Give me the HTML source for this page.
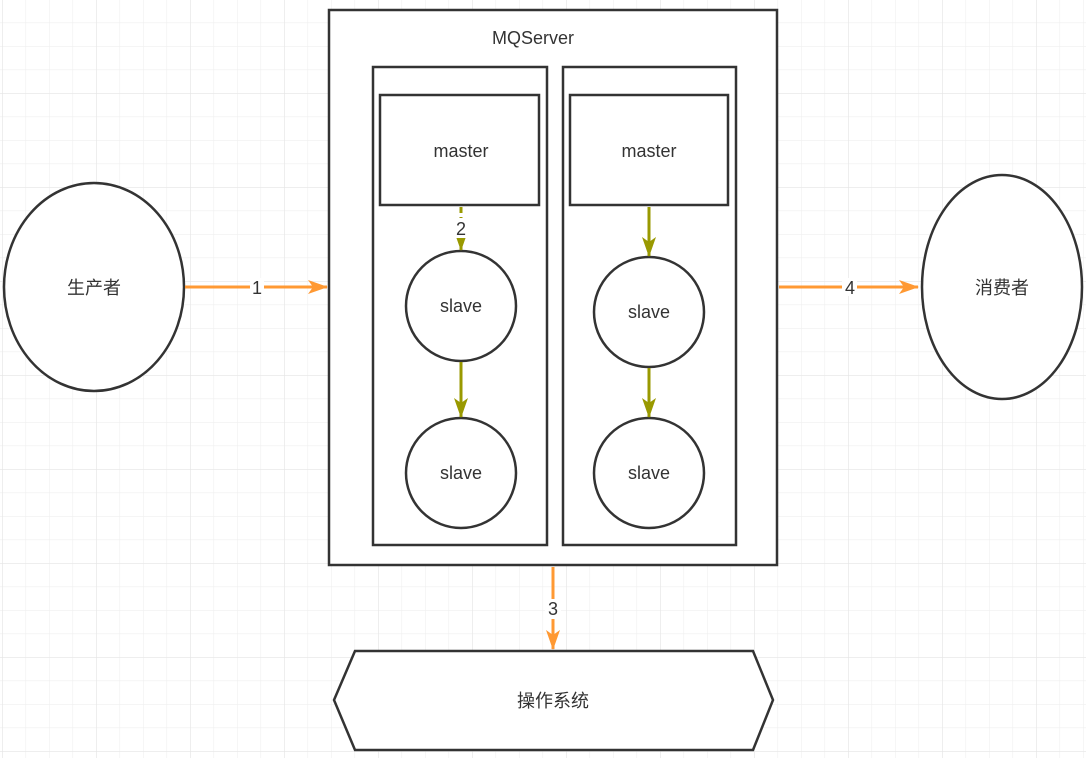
<!DOCTYPE html>
<html><head><meta charset="utf-8"><style>
html,body{margin:0;padding:0;background:#fff;}
svg{display:block;font-family:"Liberation Sans","Noto Sans CJK SC",sans-serif;}
</style></head><body>
<svg width="1086" height="758" viewBox="0 0 1086 758" xmlns="http://www.w3.org/2000/svg">
<defs>
<pattern id="g" x="2" y="-1" width="23.5" height="23.5" patternUnits="userSpaceOnUse">
<path d="M0 0V23.5M0 0H23.5" stroke="#efefef" stroke-width="1.2" fill="none"/>
</pattern>
<pattern id="G" x="2" y="-1" width="94" height="94" patternUnits="userSpaceOnUse">
<path d="M0 0V94M0 0H94" stroke="#e6e6e6" stroke-width="1.3" fill="none"/>
</pattern>
<marker id="ao" markerWidth="20" markerHeight="16" refX="19" refY="8" orient="auto" markerUnits="userSpaceOnUse"><path d="M0,1 L20,8 L0,15 L5,8z" fill="#ff9933"/></marker>
<marker id="ag" markerWidth="20" markerHeight="16" refX="19" refY="8" orient="auto" markerUnits="userSpaceOnUse"><path d="M0,1 L20,8 L0,15 L5,8z" fill="#999900"/></marker>
</defs>
<rect width="1086" height="758" fill="url(#g)"/>
<rect width="1086" height="758" fill="url(#G)"/>
<g stroke="#333" stroke-width="2.5" fill="#fff">
<rect x="329" y="10" width="448" height="555"/>
<rect x="373" y="67" width="174" height="478"/>
<rect x="563" y="67" width="173" height="478"/>
<rect x="380" y="95" width="159" height="110"/>
<rect x="570" y="95" width="158" height="110"/>
<ellipse cx="94" cy="287" rx="90" ry="104"/>
<ellipse cx="1002" cy="287" rx="80" ry="112"/>
<circle cx="461" cy="306" r="55"/>
<circle cx="461" cy="473" r="55"/>
<circle cx="649" cy="312" r="55"/>
<circle cx="649" cy="473" r="55"/>
<polygon points="355,651 753,651 773,700 753,750 355,750 334,700"/>
</g>
<g stroke="#ff9933" stroke-width="3" fill="none">
<line x1="185" y1="287" x2="327" y2="287" marker-end="url(#ao)"/>
<line x1="779" y1="287" x2="918" y2="287" marker-end="url(#ao)"/>
<line x1="553" y1="567" x2="553" y2="649" marker-end="url(#ao)"/>
</g>
<g stroke="#999900" stroke-width="3" fill="none">
<line x1="461" y1="207" x2="461" y2="250" stroke-dasharray="6,4" marker-end="url(#ag)"/>
<line x1="461" y1="362" x2="461" y2="417" marker-end="url(#ag)"/>
<line x1="649" y1="207" x2="649" y2="256" marker-end="url(#ag)"/>
<line x1="649" y1="368" x2="649" y2="417" marker-end="url(#ag)"/>
</g>
<g fill="#fff">
<rect x="250" y="278" width="14" height="18"/>
<rect x="842" y="278" width="15" height="18"/>
<rect x="545" y="599" width="16" height="20"/>
<rect x="453" y="218" width="16" height="20"/>
</g>
<g fill="#333" font-size="18" text-anchor="middle">
<text x="533" y="44">MQServer</text>
<text x="461" y="157">master</text>
<text x="649" y="157">master</text>
<text x="461" y="312">slave</text>
<text x="461" y="479">slave</text>
<text x="649" y="318">slave</text>
<text x="649" y="479">slave</text>
<text x="94" y="294">生产者</text>
<text x="1002" y="294">消费者</text>
<text x="553" y="707">操作系统</text>
<text x="257" y="294">1</text>
<text x="850" y="294">4</text>
<text x="553" y="615">3</text>
<text x="461" y="235">2</text>
</g>
</svg>
</body></html>
